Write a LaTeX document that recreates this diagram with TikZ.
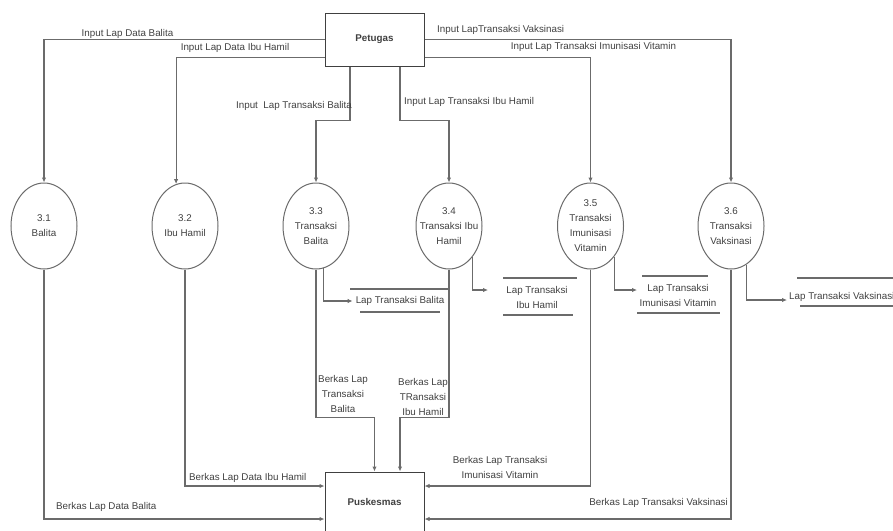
\documentclass[tikz,border=0pt]{standalone}
\usepackage{fontspec}
\setmainfont{Liberation Sans}
\usetikzlibrary{arrows.meta,shapes.geometric}
\definecolor{flowline}{gray}{0.42}
\definecolor{inkc}{gray}{0.25}
\begin{document}
\begin{tikzpicture}[x=1pt,y=-1pt,
  font=\fontsize{9.8}{15}\selectfont,
  every node/.style={text=inkc},
  entity/.style={draw=inkc, line width=1pt, minimum width=99pt, inner sep=0pt,
    font=\fontsize{9.8}{15}\selectfont\bfseries},
  proc/.style={ellipse, draw=flowline, line width=1pt, minimum width=66pt,
    minimum height=86pt, inner sep=0pt},
  proctext/.style={align=center, inner sep=0pt},
  lbl/.style={align=center, inner sep=0pt},
  flow/.style={draw=flowline, line width=1.1pt, -{Latex[length=5pt,width=4.5pt]}},
  plain/.style={draw=flowline, line width=1.1pt},
]
\useasboundingbox (0,0) rectangle (893,530);

% external entities
\node[entity, minimum height=53pt] (pet) at (374.5,39.5) {Petugas};
\node[entity, minimum height=60pt] (pus) at (374.5,502) {Puskesmas};

% processes
\node[proc, label={[proctext]center:3.1\\Balita}] (p1) at (44,226) {};
\node[proc, label={[proctext]center:3.2\\Ibu Hamil}] (p2) at (185,226) {};
\node[proc, label={[proctext]center:3.3\\Transaksi\\Balita}] (p3) at (316,226) {};
\node[proc, label={[proctext]center:3.4\\Transaksi Ibu\\Hamil}] (p4) at (449,226) {};
\node[proc, label={[proctext]center:3.5\\Transaksi\\Imunisasi\\Vitamin}] (p5) at (590.5,226) {};
\node[proc, label={[proctext]center:3.6\\Transaksi\\Vaksinasi}] (p6) at (731,226) {};

% data stores
\node[lbl] (s1) at (400,301) {Lap Transaksi Balita};
\node[lbl] (s2) at (537,297.5) {Lap Transaksi\\Ibu Hamil};
\node[lbl] (s3) at (678,295.5) {Lap Transaksi\\Imunisasi Vitamin};
\node[lbl, anchor=west] (s4) at (789,297) {Lap Transaksi Vaksinasi};

\draw[plain] ([shift={(-50,-12)}]s1.center) -- ++(99,0);
\draw[plain] ([shift={(-40,11)}]s1.center) -- ++(80,0);
\draw[plain] ([shift={(-34,-19.5)}]s2.center) -- ++(74,0);
\draw[plain] ([shift={(-34,17.5)}]s2.center) -- ++(70,0);
\draw[plain] ([shift={(-36,-19.5)}]s3.center) -- ++(66,0);
\draw[plain] ([shift={(-41,17.5)}]s3.center) -- ++(83,0);
\draw[plain] ([shift={(8,-19)}]s4.west) -- ++(100,0);
\draw[plain] ([shift={(11,9)}]s4.west) -- ++(100,0);

% flows from Petugas
\draw[flow] (pet.west) -| (p1.north);
\draw[flow] ([yshift=-18pt]pet.west) -| (p2.102);
\draw[flow] ([xshift=-24.5pt]pet.south) -- ++(0,54) -| (p3.north);
\draw[flow] ([xshift=25.5pt]pet.south) -- ++(0,54) -| (p4.north);
\draw[flow] ([yshift=-18pt]pet.east) -| (p5.north);
\draw[flow] (pet.east) -| (p6.north);

% flows into data stores
\draw[flow] (p3.-80) |- ([xshift=-3pt]s1.west);
\draw[flow] (p4.south east) |- ([shift={(-49,-7.5)}]s2.center);
\draw[flow] (p5.south east) |- ([shift={(-41,-5.5)}]s3.center);
\draw[flow] (p6.-68) |- ([shift={(-2,3)}]s4.west);

% flows to Puskesmas
\draw[flow] (p1.south) |- ([yshift=-17pt]pus.west);
\draw[flow] (p2.south) |- ([yshift=16pt]pus.west);
\draw[flow] (p3.south) -- ++(0,148) -| (pus.north);
\draw[flow] (p4.south) -- ++(0,148) -| ([xshift=25.5pt]pus.north);
\draw[flow] (p5.south) |- ([yshift=16pt]pus.east);
\draw[flow] (p6.south) |- ([yshift=-17pt]pus.east);

% flow labels
\node[lbl] (l1) at (127.5,34) {Input Lap Data Balita};
\node[lbl] (l2) at (235,48) {Input Lap Data Ibu Hamil};
\node[lbl, anchor=east] (l3) at (352,106) {Input\ \ Lap Transaksi Balita};
\node[lbl, anchor=west] (l4) at (404,102) {Input Lap Transaksi Ibu Hamil};
\node[lbl, anchor=west] (l5) at (437,30) {Input LapTransaksi Vaksinasi};
\node[lbl] (l6) at (593.5,47) {Input Lap Transaksi Imunisasi Vitamin};
\node[lbl, anchor=west] (l7) at (56,507) {Berkas Lap Data Balita};
\node[lbl, anchor=west] (l8) at (189,478) {Berkas Lap Data Ibu Hamil};
\node[lbl] (l9) at (343,394) {Berkas Lap\\Transaksi\\Balita};
\node[lbl] (l10) at (423,397) {Berkas Lap\\TRansaksi\\Ibu Hamil};
\node[lbl] (l11) at (500,467.5) {Berkas Lap Transaksi\\Imunisasi Vitamin};
\node[lbl, anchor=east] (l12) at (728,503) {Berkas Lap Transaksi Vaksinasi};
\end{tikzpicture}
\end{document}
